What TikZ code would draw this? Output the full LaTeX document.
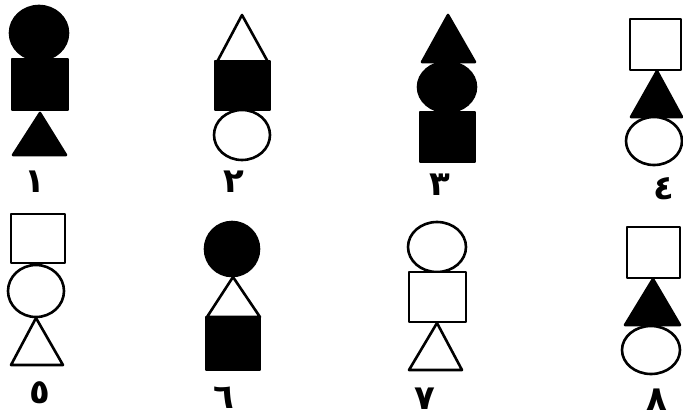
\documentclass[tikz,border=0pt]{standalone}
\usepackage{fontspec}
\newfontfamily\arabicfont[Script=Arabic]{DejaVu Sans}
\TeXXeTstate=1
\begin{document}
\begin{tikzpicture}[x=1pt,y=-1pt,
  blk/.style={draw=black,fill=black,line width=2.6pt,line join=round},
  wht/.style={draw=black,fill=white,line width=2.6pt,line join=round},
  num/.style={font=\arabicfont\bfseries\fontsize{34}{36}\selectfont,inner sep=0pt}]
\useasboundingbox (0,0) rectangle (683,418);
% figure 1
\draw[blk] (39,33) ellipse [x radius=29,y radius=27];
\draw[blk] (12,59) rectangle (68,110);
\draw[blk] (40,113) -- (13,155) -- (66,155) -- cycle;
\node[num] (n1) at (35,182) {\beginR ١\endR};
% figure 2
\draw[wht] (242,15) -- (217,62) -- (268,62) -- cycle;
\draw[blk] (215,61) rectangle (270,110);
\draw[wht] (242,135) ellipse [x radius=28,y radius=25];
\node[num] (n2) at (234,182) {\beginR ٢\endR};
% figure 3
\draw[blk] (448,15) -- (422,62) -- (475,62) -- cycle;
\draw[blk] (447,87) ellipse [x radius=29,y radius=25];
\draw[blk] (420,112) rectangle (475,162);
\node[num] (n3) at (440,185) {\beginR ٣\endR};
% figure 4
\draw[wht] (630,19) rectangle (681,70);
\draw[blk] (657,71) -- (631,117) -- (682,117) -- cycle;
\draw[wht] (654,141) ellipse [x radius=28,y radius=24];
\node[num] (n4) at (664,189) {\beginR ٤\endR};
% figure 5
\draw[wht] (11,214) rectangle (65,263);
\draw[wht] (36,291) ellipse [x radius=28,y radius=26];
\draw[wht] (36,318) -- (11,365) -- (63,365) -- cycle;
\node[num] (n5) at (40,393) {\beginR ٥\endR};
% figure 6
\draw[blk] (232,249) ellipse [x radius=27,y radius=27];
\draw[wht] (233,277) -- (207,317) -- (260,317) -- cycle;
\draw[blk] (206,317) rectangle (260,370);
\node[num] (n6) at (224,398) {\beginR ٦\endR};
% figure 7
\draw[wht] (437,247) ellipse [x radius=29,y radius=25];
\draw[wht] (409,272) rectangle (466,322);
\draw[wht] (437,323) -- (409,370) -- (462,370) -- cycle;
\node[num] (n7) at (425,399) {\beginR ٧\endR};
% figure 8
\draw[wht] (627,227) rectangle (680,278);
\draw[blk] (653,279) -- (625,325) -- (680,325) -- cycle;
\draw[wht] (651,350) ellipse [x radius=29,y radius=24];
\node[num] (n8) at (657,400) {\beginR ٨\endR};
\end{tikzpicture}
\end{document}
